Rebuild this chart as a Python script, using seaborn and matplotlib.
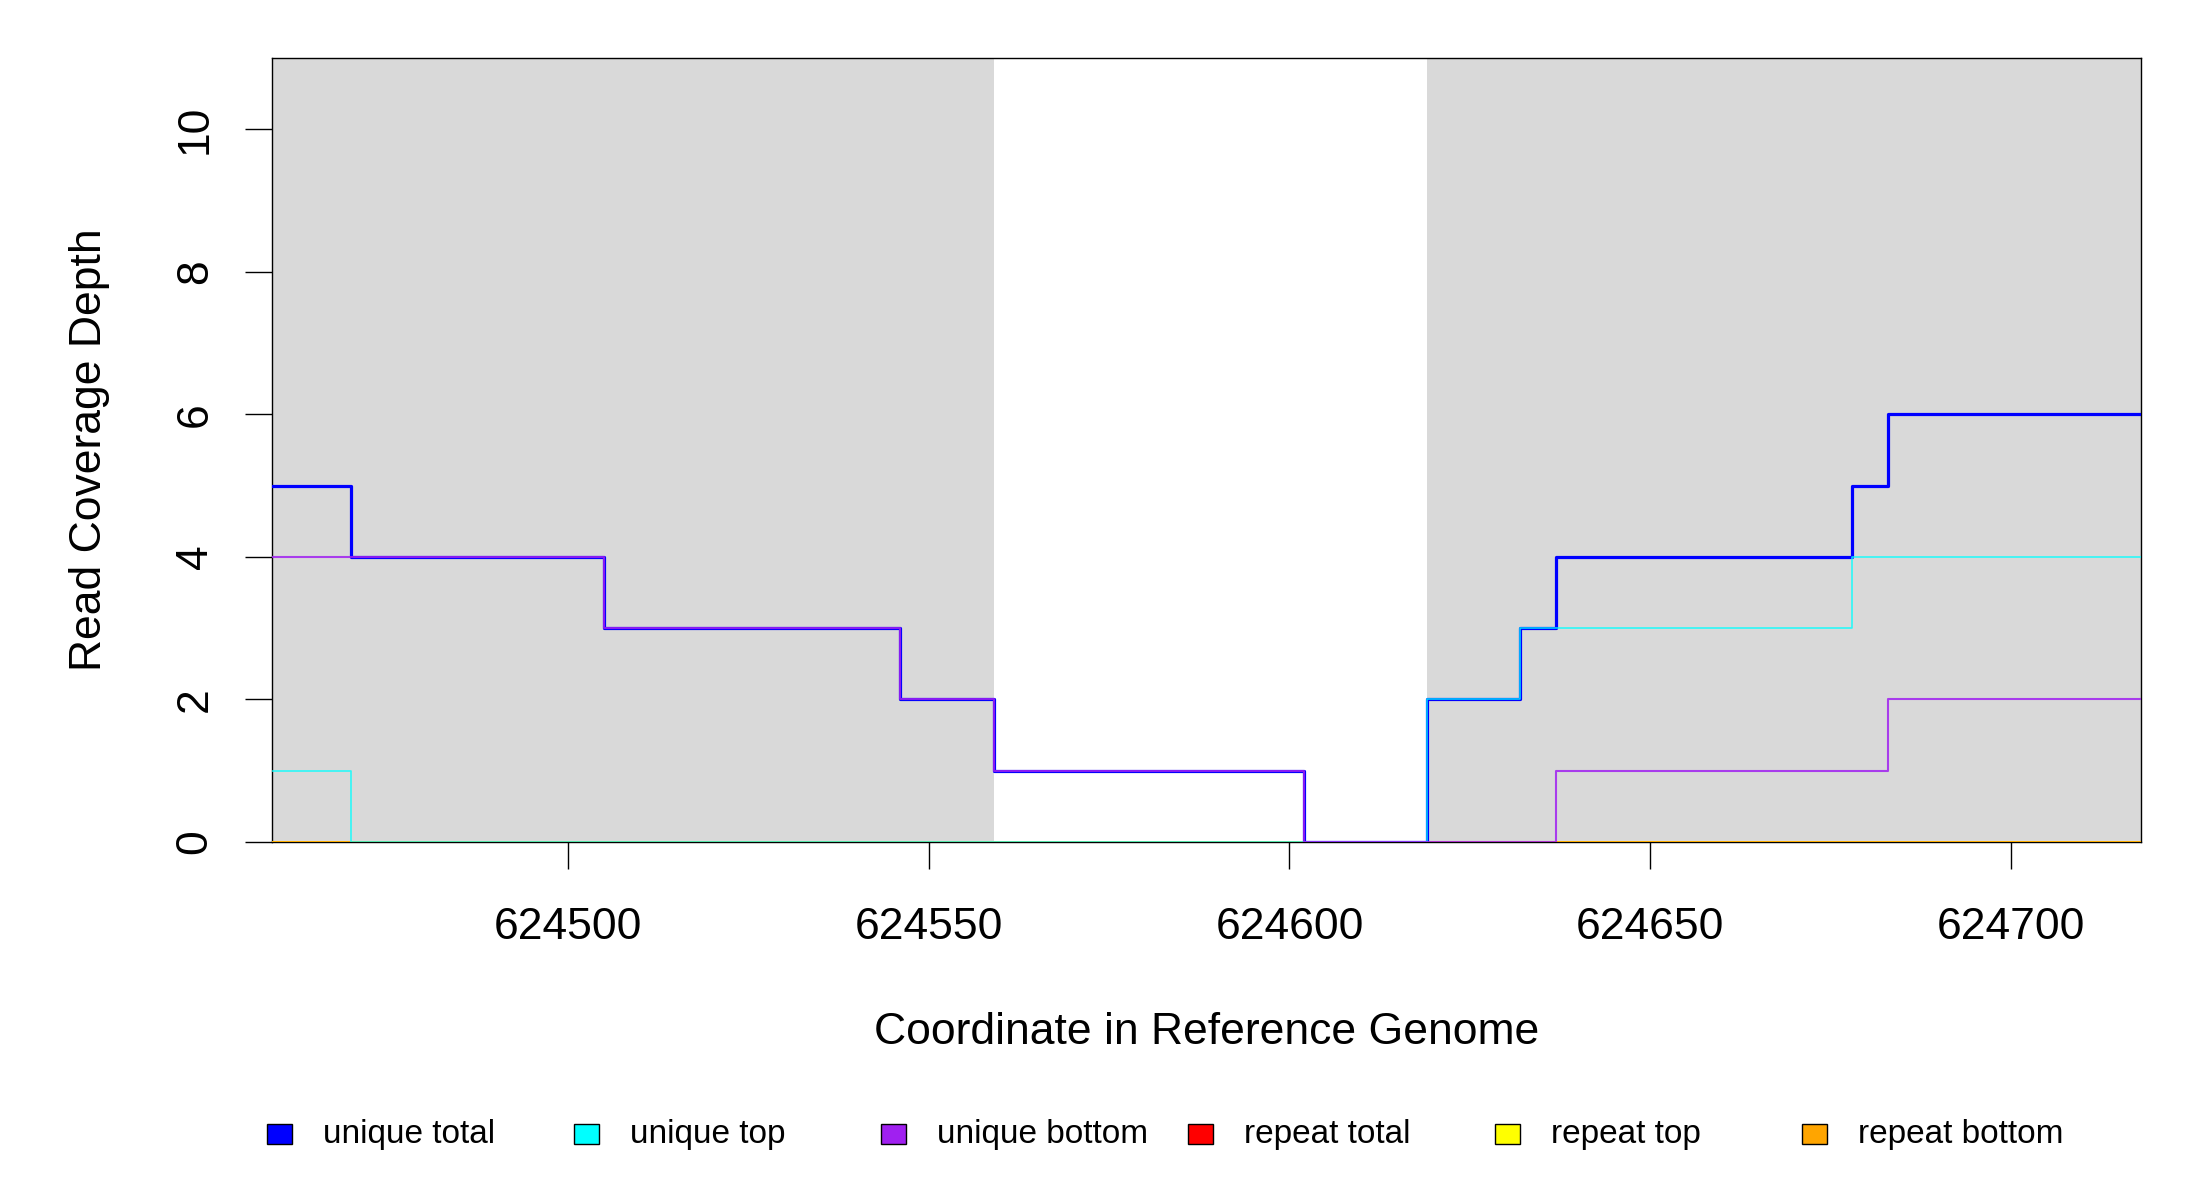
# Read coverage plot (step lines) recreated with seaborn / matplotlib
import pandas as pd
import matplotlib
matplotlib.use('Agg')
import matplotlib.pyplot as plt
from matplotlib.patches import Rectangle
import seaborn as sns

# data
x_start = 624459
x_end = 624718
y_max = 11

# shaded (grey) regions
shade_regions = [(624459, 624559), (624619, 624718)]

# step breakpoints and depth (steps-post, last value repeated)
total_pos = [624459, 624470, 624505, 624546, 624559, 624602, 624619, 624632, 624637, 624678, 624683, 624718]
total_val = [5, 4, 3, 2, 1, 0, 2, 3, 4, 5, 6, 6]

top_pos = [624459, 624470, 624619, 624632, 624678, 624718]
top_val = [1, 0, 2, 3, 4, 4]

bottom_pos = [624459, 624505, 624546, 624559, 624602, 624637, 624683, 624718]
bottom_val = [4, 3, 2, 1, 0, 1, 2, 2]

repeat_pos = [624459, 624718]
repeat_total_val = [0, 0]
repeat_top_val = [0, 0]
repeat_bottom_val = [0, 0]

x_ticks = [624500, 624550, 624600, 624650, 624700]
y_ticks = [0, 2, 4, 6, 8, 10]

legend_labels = ['unique total', 'unique top', 'unique bottom', 'repeat total', 'repeat top', 'repeat bottom']
legend_colors = ['#0000FF', '#00FFFF', '#A020F0', '#FF0000', '#FFFF00', '#FFA500']

sns.set_style('white')
plt.rcParams['font.family'] = ['Liberation Sans', 'DejaVu Sans']
plt.rcParams['text.color'] = 'black'
plt.rcParams['axes.labelcolor'] = 'black'
plt.rcParams['xtick.color'] = 'black'
plt.rcParams['ytick.color'] = 'black'

W, H = 2200, 1200
fig = plt.figure(figsize=(22, 12), dpi=100)
ax = fig.add_axes([272 / W, 1 - 842 / H, (2141 - 272) / W, (842 - 58) / H])

# grey regions
for a, b in shade_regions:
    ax.axvspan(a, b, color='#D9D9D9', lw=0, zorder=0)

# repeat lines first, then unique lines on top
series = [
    (repeat_pos, repeat_total_val, '#FF0000', 1.2, 1.0),
    (repeat_pos, repeat_top_val, '#FFFF00', 1.2, 1.0),
    (repeat_pos, repeat_bottom_val, '#FFA500', 1.2, 1.0),
    (total_pos, total_val, '#0000FF', 2.3, 1.0),
    (top_pos, top_val, '#00FFFF', 1.2, 0.8),
    (bottom_pos, bottom_val, '#A020F0', 1.5, 0.85),
]
for i, (xs, ys, col, lw, al) in enumerate(series):
    df = pd.DataFrame({'x': xs, 'y': ys})
    sns.lineplot(data=df, x='x', y='y', ax=ax, color=col, lw=lw, alpha=al,
                 drawstyle='steps-post', estimator=None, sort=False, zorder=2 + i)

ax.set_xlim(x_start, x_end)
ax.set_ylim(0, y_max)
ax.set_xticks(x_ticks)
ax.set_xticklabels([str(t) for t in x_ticks])
ax.set_yticks(y_ticks)
ax.set_yticklabels([str(t) for t in y_ticks], rotation=90, va='center')

for s in ax.spines.values():
    s.set_visible(True)
    s.set_color('black')
    s.set_linewidth(1.0)

ax.tick_params(axis='both', direction='out', length=19.5, width=1.0, color='black',
               labelsize=32, labelcolor='black', bottom=True, left=True)
ax.tick_params(axis='x', pad=27)
ax.tick_params(axis='y', pad=21)

ax.set_xlabel('Coordinate in Reference Genome', fontsize=32, color='black')
ax.set_ylabel('Read Coverage Depth', fontsize=32, color='black')
ax.xaxis.set_label_coords(0.5, (842 - 1033) / (842 - 58))
ax.xaxis.label.set_va('center')
ax.yaxis.set_label_coords((90 - 272) / (2141 - 272), 0.5)
ax.yaxis.label.set_va('center')

# legend laid out in equal columns along the bottom
leg_y = 1 - 1134 / H
for i, (lab, col) in enumerate(zip(legend_labels, legend_colors)):
    cx = 279 + i * 307
    fig.patches.append(Rectangle(((cx - 12) / W, leg_y - 10 / H), 25 / W, 20 / H,
                                 transform=fig.transFigure, facecolor=col,
                                 edgecolor='black', lw=1.0))
    fig.text((cx + 44) / W, leg_y, lab, fontsize=24, va='center', ha='left', color='black')

fig.savefig('out.png', dpi=100, facecolor='white')
